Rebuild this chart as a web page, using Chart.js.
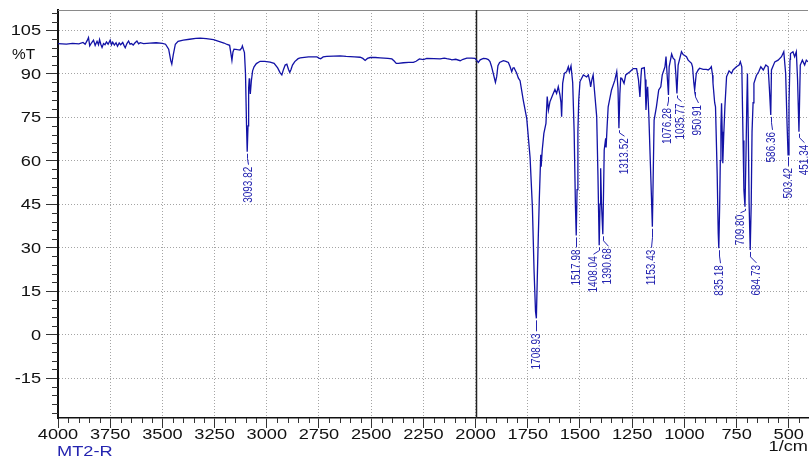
<!DOCTYPE html>
<html>
<head>
<meta charset="utf-8">
<script src="https://cdn.jsdelivr.net/npm/chart.js@4.4.0/dist/chart.umd.min.js"></script>
<style>
  html, body { margin: 0; padding: 0; background: #fff; }
  canvas { display: block; }
</style>
</head>
<body>
<canvas id="irChart" width="809" height="457"></canvas>
<script>
// ---- spectrum ----
var wavenumbers = [4000,3960,3930,3900,3880,3870,3860,3854,3848,3840,3830,3822,3813,3806,3801,3795,3789,3782,3775,3768,3760,3750,3744,3738,3730,3722,3715,3707,3700,3690,3684,3678,3670,3662,3655,3648,3640,3632,3622,3614,3606,3590,3560,3530,3500,3485,3470,3460,3455,3448,3438,3425,3400,3370,3340,3319,3290,3255,3230,3205,3190,3178,3172,3167,3162,3157,3140,3128,3120,3117,3112,3107,3102,3097,3093.82,3090,3087,3084,3082,3079,3074,3068,3061,3050,3032,3010,2984,2965,2948,2936,2928,2920,2912,2904,2896,2890,2884,2877,2866,2850,2840,2800,2760,2750,2742,2730,2713,2680,2649,2620,2580,2553,2540,2529,2518,2505,2480,2457,2420,2401,2390,2380,2370,2346,2320,2298,2285,2269,2250,2234,2200,2170,2150,2138,2120,2114,2095,2074,2060,2042,2020,2003,1995,1987,1978,1963,1950,1939,1931,1924,1915,1905,1899,1893,1885,1867,1855,1843,1835,1827,1821,1816,1810,1803,1795,1787,1772,1755,1739,1728,1720,1713,1708.93,1705,1700,1695,1688,1686,1681,1673,1663,1657,1651,1644,1631,1620,1612,1604,1596,1591,1588,1583,1575,1564,1556,1551,1543,1535,1528,1522,1517.98,1514,1510,1506,1500,1484,1468,1460,1452,1449,1443,1437,1428,1420,1414,1408.04,1404,1401,1397,1390.68,1387,1384,1377,1375,1370,1365,1349,1333,1324,1318,1313.52,1309,1305,1300,1289,1281,1261,1245,1229,1220,1213,1208,1205,1192,1188,1184,1180,1176,1170,1165,1158,1153.43,1150,1145,1134,1123,1113,1106,1093,1088,1083,1076.28,1073,1061,1054,1046,1041,1035.77,1030,1014,1006,990,982,966,961,955,950.91,946,943,934,927,910,895,886,875,871,865,863,855,851,843,838,835.18,831,828,825,822,819,816,812,806,798,786,774,767,751,738,732,725,719,715,709.80,705,701,698,694,690,684.73,680,676,671,667,655,644,634,622,610,599,593,586.36,583,567,551,535,524,515,508,503.42,499,494,492,480,472,464,458,451.34,448,445,435,424,416,408]
var transmittance = [100.4,100.2,100.5,100.3,100.8,100.2,101.5,102.5,99.6,100.6,101.6,99.8,101.2,100.0,101.8,100.2,99.1,100.4,100.0,101.0,100.2,101.6,100.0,100.9,99.9,100.7,99.5,100.6,100.0,100.8,99.8,99.0,100.4,101.3,100.2,100.4,99.9,100.6,101.3,100.3,100.7,100.4,100.6,100.7,100.5,100.2,98.5,94.5,93.3,96.5,100.2,101.2,101.6,101.9,102.2,102.3,102.1,101.8,101.2,100.6,100.1,99.8,97.0,94.6,97.5,98.5,98.3,98.2,98.9,99.6,98.4,97.3,90,72,63.1,72,85,88.4,86,83,87.5,91.0,92.4,93.5,94.3,94.3,94.0,93.6,92.0,90.3,89.6,91.5,93.0,93.3,91.5,90.5,91.5,93.0,94.2,95.2,95.5,95.8,95.8,95.4,95.2,95.8,96.0,96.1,96.2,96.0,95.8,95.7,95.3,94.6,95.3,95.6,95.6,95.5,95.3,95.1,94.4,93.6,93.6,93.8,93.9,93.9,94.3,95.1,94.9,95.3,95.2,95.1,95.4,95.2,95.0,94.8,95.0,94.5,95.0,95.4,95.4,95.3,94.6,93.9,94.8,95.3,95.2,94.9,94.2,92.6,90,87.0,89,92.8,93.9,94.5,94.3,93.9,92.5,90.7,92,92.1,91.2,90.2,88.5,87.6,81,74.5,61,44,22,8,5.6,18,33,46.4,62,57.9,63.5,69.4,72.9,82.1,77.5,80.3,82.7,84.6,83.2,85.5,82.7,80,75.2,86.7,90.1,90.7,92.4,90.7,92.7,87,70,45,34.2,50,70,80.9,87.3,89.6,88.9,89.6,87,85.5,88,89.6,82,75.2,55,30.8,45,57.4,45,34.6,50,63.7,67.7,64.6,72,78.6,84.4,87.8,90.7,85,71.2,83,88.5,88.4,86.7,89.6,90.7,91.8,91.8,88,82,89,91.8,92.1,88,77.5,83,85.5,75,63.7,48,37.2,52,74,78.6,84.4,85.5,89.6,92.4,95.9,90,82.7,92.4,96.8,95.4,94.8,90,83.2,93,97.6,96.6,95.9,94.7,93.6,92.4,87,84.4,88,90.1,91.3,91.9,91.5,91.5,91.3,92.0,92.4,89.5,86.7,80,78.6,55.6,35,29.8,45,60,72,79.8,70,59.1,68,78.6,89,91.0,90.1,91.3,92.4,93,94.1,92.4,67,50,44.1,62,80,90.1,70,45,29.2,45,70,80,86.7,89.4,90.7,92.4,91.3,93,92.4,85,75.8,91.3,94.1,94.7,95.9,97.6,90.1,72,62,80,95,97,97.6,95.9,97.6,88,70,82,93,94.7,93,94.7,94.1]

// labelled peaks
var peakWavenumbers = [3093.82, 1708.93, 1517.98, 1408.04, 1390.68, 1313.52, 1153.43, 1076.28, 1035.77, 950.91, 835.18, 709.80, 684.73, 586.36, 503.42, 451.34]
// where each label sits relative to its peak tip (px)
var labelDrop = [15, 15, 14, 11, 14, 10, 23, 13, 10, 15, 17, 8, 15, 17, 13, 13]
var labelShift = [1, 0, 0, -6, 5, 5, -1, -1, 4, 3, 1, -5, 6, 1, 0, 5]

var xTickValues = [4000, 3750, 3500, 3250, 3000, 2750, 2500, 2250, 2000, 1750, 1500, 1250, 1000, 750, 500]
var yTickValues = [105, 90, 75, 60, 45, 30, 15, 0, -15]

var lineBlue = '#1212a6'
var textBlue = '#2424b0'

function wideText (ctx, txt, px, py, align, sx) {
  ctx.save()
  ctx.translate(px, py)
  ctx.scale(sx, 1)
  ctx.textAlign = align
  ctx.fillText(txt, 0, 0)
  ctx.restore()
}

var irDecor = {
  id: 'irDecor',
  beforeDatasetsDraw: function (chart) {
    var ctx = chart.ctx, a = chart.chartArea, x = chart.scales.x
    ctx.save()
    // top frame line
    ctx.strokeStyle = '#8a8a8a'
    ctx.lineWidth = 1
    ctx.beginPath()
    ctx.moveTo(a.left, a.top + 0.5)
    ctx.lineTo(a.right, a.top + 0.5)
    ctx.stroke()
    // split line at 2000
    var xs = Math.round(x.getPixelForValue(2000)) + 0.5
    ctx.strokeStyle = '#222'
    ctx.lineWidth = 1.5
    ctx.beginPath()
    ctx.moveTo(xs, a.top)
    ctx.lineTo(xs, a.bottom)
    ctx.stroke()
    ctx.restore()
  },
  afterDraw: function (chart) {
    var ctx = chart.ctx, a = chart.chartArea
    var x = chart.scales.x, y = chart.scales.y
    ctx.save()
    // minor ticks
    ctx.strokeStyle = '#333'
    ctx.lineWidth = 1
    ctx.beginPath()
    for (var w = 4000; w >= x.min; w -= 50) {
      if (w % 250 === 0) continue
      var px = Math.round(x.getPixelForValue(w)) + 0.5
      ctx.moveTo(px, a.bottom)
      ctx.lineTo(px, a.bottom + 5)
    }
    for (var t = -27; t <= y.max; t += 3) {
      if (t % 15 === 0) continue
      var py = Math.round(y.getPixelForValue(t)) + 0.5
      ctx.moveTo(a.left - 6, py)
      ctx.lineTo(a.left, py)
    }
    ctx.stroke()

    // tick labels
    ctx.fillStyle = '#111'
    ctx.font = '14px "Liberation Sans", Arial, sans-serif'
    ctx.textBaseline = 'alphabetic'
    x.ticks.forEach(function (tk) {
      wideText(ctx, String(tk.value), x.getPixelForValue(tk.value), a.bottom + 21, 'center', 1.3)
    })
    y.ticks.forEach(function (tk) {
      wideText(ctx, String(tk.value), a.left - 17, y.getPixelForValue(tk.value) + 5, 'right', 1.3)
    })
    wideText(ctx, '%T', 12, 58.5, 'left', 1.1)
    wideText(ctx, '1/cm', 808, 451, 'right', 1.3)
    ctx.fillStyle = textBlue
    wideText(ctx, 'MT2-R', 57, 455.5, 'left', 1.3)

    // peak labels with leader lines
    ctx.strokeStyle = textBlue
    ctx.fillStyle = textBlue
    ctx.lineWidth = 1
    ctx.font = '10px "Liberation Sans", Arial, sans-serif'
    peakWavenumbers.forEach(function (wn, i) {
      var idx = wavenumbers.indexOf(wn)
      var px = x.getPixelForValue(wn)
      var tipY = y.getPixelForValue(transmittance[idx])
      var top = tipY + labelDrop[i]
      var lx = px + labelShift[i]
      ctx.beginPath()
      ctx.moveTo(Math.round(px) + 0.5, tipY + 2)
      if (labelShift[i] !== 0) {
        var mid = tipY + 2 + (labelDrop[i] - 4) * 0.45
        ctx.lineTo(Math.round(px) + 0.5, mid)
        ctx.lineTo(Math.round(lx) + 0.5, top - 2)
      } else {
        ctx.lineTo(Math.round(px) + 0.5, top - 2)
      }
      ctx.stroke()
      ctx.save()
      ctx.translate(lx, top)
      ctx.scale(1.3, 1)
      ctx.rotate(-Math.PI / 2)
      ctx.textAlign = 'right'
      ctx.textBaseline = 'middle'
      ctx.fillText(wn.toFixed(2), 0, 0)
      ctx.restore()
    })
    ctx.restore()
  }
}

var ctx = document.getElementById('irChart').getContext('2d')
// eslint-disable-next-line no-unused-vars
var irChart = new Chart(ctx, {
  type: 'line',
  data: {
    datasets: [{
      data: wavenumbers.map(function (w, i) { return { x: w, y: transmittance[i] } }),
      borderColor: lineBlue,
      borderWidth: 1.3,
      pointRadius: 0,
      tension: 0,
      fill: false
    }]
  },
  options: {
    responsive: false,
    animation: false,
    devicePixelRatio: 1,
    layout: { padding: { top: 10, right: 1, left: 0, bottom: 0 } },
    plugins: { legend: { display: false }, tooltip: { enabled: false } },
    scales: {
      x: {
        type: 'linear',
        reverse: true,
        min: 408,
        max: 4000,
        afterBuildTicks: function (s) { s.ticks = xTickValues.map(function (v) { return { value: v } }) },
        afterFit: function (s) { s.height = 39 },
        ticks: { display: false },
        grid: { color: '#a4a4a4', lineWidth: 1, tickLength: 10, tickColor: '#333', drawTicks: true },
        border: { display: true, color: '#111', width: 1.5, dash: [1, 2] }
      },
      y: {
        type: 'linear',
        min: -28.8,
        max: 112,
        afterBuildTicks: function (s) { s.ticks = yTickValues.map(function (v) { return { value: v } }) },
        afterFit: function (s) { s.width = 58 },
        ticks: { display: false },
        grid: { color: '#a4a4a4', lineWidth: 1, tickLength: 12, tickColor: '#333', drawTicks: true },
        border: { display: true, color: '#111', width: 2, dash: [1, 2] }
      }
    }
  },
  plugins: [irDecor]
})
</script>
</body>
</html>
